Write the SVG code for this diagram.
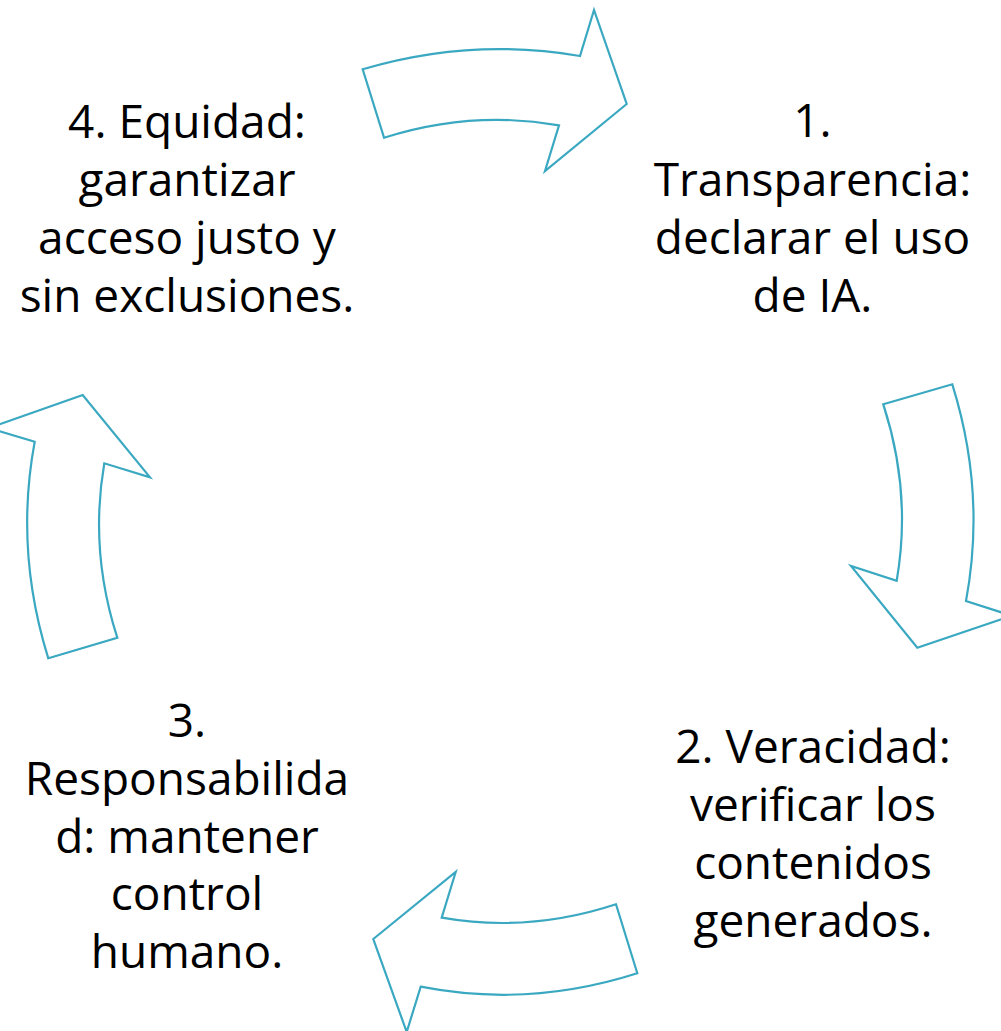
<svg xmlns="http://www.w3.org/2000/svg" width="1001" height="1031" viewBox="0 0 1001 1031">
<style>
.arrow{fill:#ffffff;stroke:#3AA8C1;stroke-width:2.2;stroke-linejoin:miter}
.lbl{font-family:"Open Sans","Noto Sans",sans-serif;font-size:46px;fill:#000;text-anchor:middle}
</style>
<rect width="1001" height="1031" fill="#ffffff"/>
<g id="connectors">
<path id="arrow-4-1" class="arrow" d="M362.7,69.3 Q470.6,37.3 580,56 L594,10 L626.7,104 L545,171 L559,125.3 Q471.5,109.9 384,137.7 Z"/>
<path id="arrow-1-2" class="arrow" d="M883.3,404.3 L952.3,384.3 Q986.2,492.7 966,601 L1011.7,615.7 L917.3,647.7 L851,566 L896.7,580.7 Q912,492.5 883.3,404.3 Z"/>
<path id="arrow-2-3" class="arrow" d="M616,904.3 L637.3,973.3 Q529,1008 420.7,986.7 L406.7,1032 L373.3,939 L455.7,872 L441.7,917.7 Q528.9,933 616,904.3 Z"/>
<path id="arrow-3-4" class="arrow" d="M48.3,658.3 L117.3,637.7 Q89.2,550.5 104.3,463.3 L150,477.3 L82.7,395 L-11,428 L34.7,441.7 Q14.5,550 48.3,658.3 Z"/>
</g>
<g id="node-1">
<text class="lbl" x="812.5" y="137">1.</text>
<text class="lbl" x="812.5" y="196">Transparencia:</text>
<text class="lbl" x="812.5" y="254">declarar el uso</text>
<text class="lbl" x="812.5" y="312">de IA.</text>
</g>
<g id="node-2">
<text class="lbl" x="813" y="763">2. Veracidad:</text>
<text class="lbl" x="813" y="821">verificar los</text>
<text class="lbl" x="813" y="879">contenidos</text>
<text class="lbl" x="813" y="937">generados.</text>
</g>
<g id="node-3">
<text class="lbl" x="187" y="737">3.</text>
<text class="lbl" x="187" y="795">Responsabilida</text>
<text class="lbl" x="187" y="853">d: mantener</text>
<text class="lbl" x="187" y="910">control</text>
<text class="lbl" x="187" y="968">humano.</text>
</g>
<g id="node-4">
<text class="lbl" x="187" y="138">4. Equidad:</text>
<text class="lbl" x="187" y="196">garantizar</text>
<text class="lbl" x="187" y="254">acceso justo y</text>
<text class="lbl" x="187" y="312">sin exclusiones.</text>
</g>
</svg>
